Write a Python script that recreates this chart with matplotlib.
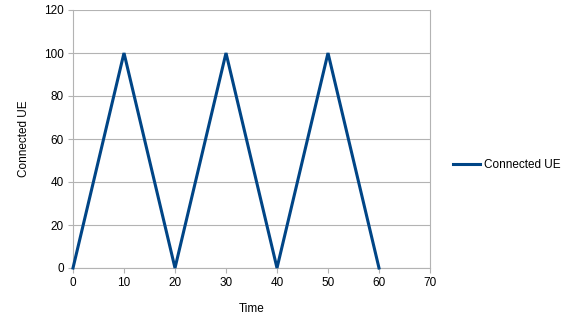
import matplotlib
matplotlib.use('Agg')
import matplotlib.pyplot as plt
from matplotlib.lines import Line2D

plt.rcParams['font.family'] = ['Liberation Sans', 'DejaVu Sans']

#%% data
time = [0, 10, 20, 30, 40, 50, 60]
connected_ue = [0, 100, 0, 100, 0, 100, 0]
x_ticks = [0, 10, 20, 30, 40, 50, 60, 70]
y_ticks = [0, 20, 40, 60, 80, 100, 120]

line_color = '#004586'
grid_color = '#b3b3b3'

#%% plot
fig = plt.figure(figsize=(5.73, 3.25), dpi=100)
ax = fig.add_axes([73 / 573, 57 / 325, 357 / 573, 258 / 325])

ax.plot(time, connected_ue, color=line_color, linewidth=2.2, solid_joinstyle='miter',
        clip_on=False, zorder=3)

ax.set_xlim(0, 70)
ax.set_ylim(0, 120)
ax.set_xticks(x_ticks)
ax.set_yticks(y_ticks)
ax.yaxis.grid(True, color=grid_color, linewidth=0.8)
ax.set_axisbelow(True)

for side in ['left', 'bottom', 'right']:
    ax.spines[side].set_color(grid_color)
    ax.spines[side].set_linewidth(0.8)
ax.spines['top'].set_visible(False)

ax.tick_params(axis='both', colors=grid_color, labelcolor='black', labelsize=8.5,
               length=3.5, width=0.8, direction='out', pad=3)

ax.set_xlabel('Time', fontsize=8.5, labelpad=10)
ax.set_ylabel('Connected UE', fontsize=8.5, labelpad=10)

handle = Line2D([], [], color=line_color, linewidth=2.2)
fig.legend([handle], ['Connected UE'], loc='center left',
           bbox_to_anchor=(447 / 573, 1 - 165 / 325), frameon=False,
           fontsize=8.5, handlelength=2.3, handletextpad=0.35, borderpad=0)

fig.savefig('out.png', dpi=100)
